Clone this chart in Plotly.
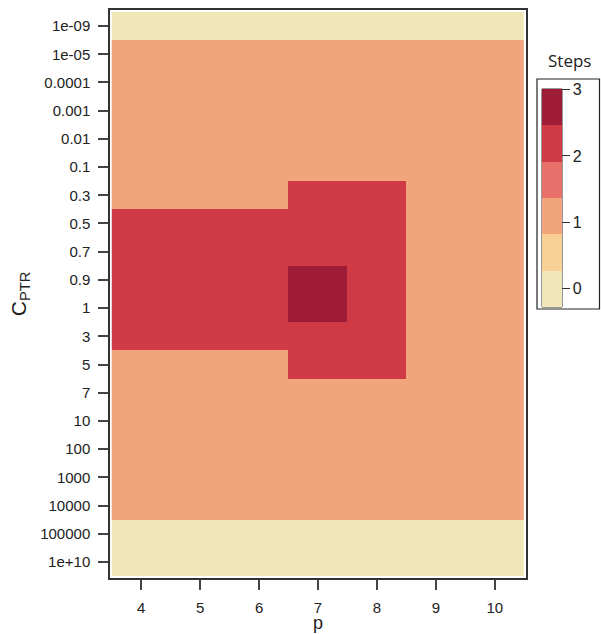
import plotly.graph_objects as go

p_values = [4, 5, 6, 7, 8, 9, 10]
c_ptr_labels = ["1e-09", "1e-05", "0.0001", "0.001", "0.01", "0.1", "0.3", "0.5",
                "0.7", "0.9", "1", "3", "5", "7", "10", "100", "1000", "10000",
                "100000", "1e+10"]
step_ticks = [0, 1, 2, 3]

# steps per row (rows follow c_ptr_labels), columns follow p_values
row_1e09   = [0, 0, 0, 0, 0, 0, 0]
row_1e05   = [1, 1, 1, 1, 1, 1, 1]
row_0_0001 = [1, 1, 1, 1, 1, 1, 1]
row_0_001  = [1, 1, 1, 1, 1, 1, 1]
row_0_01   = [1, 1, 1, 1, 1, 1, 1]
row_0_1    = [1, 1, 1, 1, 1, 1, 1]
row_0_3    = [1, 1, 1, 2, 2, 1, 1]
row_0_5    = [2, 2, 2, 2, 2, 1, 1]
row_0_7    = [2, 2, 2, 2, 2, 1, 1]
row_0_9    = [2, 2, 2, 3, 2, 1, 1]
row_1      = [2, 2, 2, 3, 2, 1, 1]
row_3      = [2, 2, 2, 2, 2, 1, 1]
row_5      = [1, 1, 1, 2, 2, 1, 1]
row_7      = [1, 1, 1, 1, 1, 1, 1]
row_10     = [1, 1, 1, 1, 1, 1, 1]
row_100    = [1, 1, 1, 1, 1, 1, 1]
row_1000   = [1, 1, 1, 1, 1, 1, 1]
row_10000  = [1, 1, 1, 1, 1, 1, 1]
row_100000 = [0, 0, 0, 0, 0, 0, 0]
row_1e10   = [0, 0, 0, 0, 0, 0, 0]

z = [row_1e09, row_1e05, row_0_0001, row_0_001, row_0_01, row_0_1, row_0_3,
     row_0_5, row_0_7, row_0_9, row_1, row_3, row_5, row_7, row_10, row_100,
     row_1000, row_10000, row_100000, row_1e10]

band_colors = ["#f0e6b8", "#f8cf94", "#f2a47c", "#e8706a", "#cf3a46", "#9f1c37"]
colorscale = []
n = len(band_colors)
for i, c in enumerate(band_colors):
    colorscale.append([i / n, c])
    colorscale.append([(i + 1) / n, c])

W, H = 601, 634
L, R, T, B = 110, 75, 10, 56
PW, PH = W - L - R, H - T - B


def px_x(x):
    return (x - L) / PW


def px_y(y):
    return 1 - (y - T) / PH


bar_top, bar_bot = 89, 307
bar_left, bar_w = 542, 20
NB = "\u00a0"

fig = go.Figure(go.Heatmap(
    x=p_values,
    y=c_ptr_labels,
    z=z,
    zmin=-0.28, zmax=3.01,
    colorscale=colorscale,
    hoverinfo="skip",
    colorbar=dict(
        x=px_x(bar_left), xanchor="left",
        y=px_y(bar_top), yanchor="top",
        len=bar_bot - bar_top, lenmode="pixels",
        thickness=bar_w, thicknessmode="pixels",
        outlinewidth=0,
        tickvals=step_ticks, ticktext=[str(v) for v in step_ticks],
        tickprefix=NB * 3,
        ticks="outside", ticklen=8, tickcolor="#333", tickwidth=1,
        tickfont=dict(family="Liberation Sans, Arial", size=16, color="#222"),
        xpad=0, ypad=0,
        borderwidth=0,
    ),
))

fig.update_layout(
    width=W, height=H,
    margin=dict(l=L, r=R, t=T, b=B, autoexpand=False),
    paper_bgcolor="white", plot_bgcolor="white",
    font=dict(family="Liberation Sans, Arial", color="#222"),
    xaxis=dict(
        range=[3.47, 10.53], tickvals=p_values,
        automargin=False,
        ticks="outside", ticklen=10, tickwidth=2, tickcolor="#444",
        showline=True, linecolor="#333", linewidth=1.5, mirror=True,
        showgrid=False, zeroline=False,
        ticklabelstandoff=5,
        tickfont=dict(family="Liberation Sans, Arial", size=15, color="#222"),
    ),
    yaxis=dict(
        type="category", categoryorder="array", categoryarray=c_ptr_labels,
        range=[19.57, -0.57],
        automargin=False,
        ticks="outside", ticklen=10, tickwidth=2, tickcolor="#444",
        showline=True, linecolor="#333", linewidth=1.5, mirror=True,
        showgrid=False, zeroline=False,
        ticklabelstandoff=5,
        tickfont=dict(family="Liberation Sans, Arial", size=15, color="#222"),
        title=dict(text="C<sub>PTR</sub>", font=dict(size=21, color="#222"), standoff=8),
    ),
    shapes=[
        # outer colorbar box
        dict(type="rect", xref="paper", yref="paper",
             x0=px_x(537), x1=px_x(599.5), y0=px_y(309), y1=px_y(79),
             line=dict(color="#222", width=1.2), fillcolor="rgba(0,0,0,0)"),
        # outline of the colour bar itself
        dict(type="rect", xref="paper", yref="paper",
             x0=px_x(bar_left), x1=px_x(bar_left + bar_w),
             y0=px_y(bar_bot), y1=px_y(bar_top),
             line=dict(color="#333", width=1), fillcolor="rgba(0,0,0,0)"),
    ],
    annotations=[
        dict(text="Steps", xref="paper", yref="paper",
             x=px_x(569), y=px_y(60),
             showarrow=False, xanchor="center", yanchor="middle",
             font=dict(family="Open Sans, Liberation Sans", size=17, color="#222")),
        dict(text="p", xref="paper", yref="paper",
             x=0.5, y=px_y(623),
             showarrow=False, xanchor="center", yanchor="middle",
             font=dict(family="Liberation Sans, Arial", size=18, color="#222")),
    ],
)

fig.write_html("out.html", config={"displayModeBar": False},
               post_script="document.body.style.margin='0px';")
